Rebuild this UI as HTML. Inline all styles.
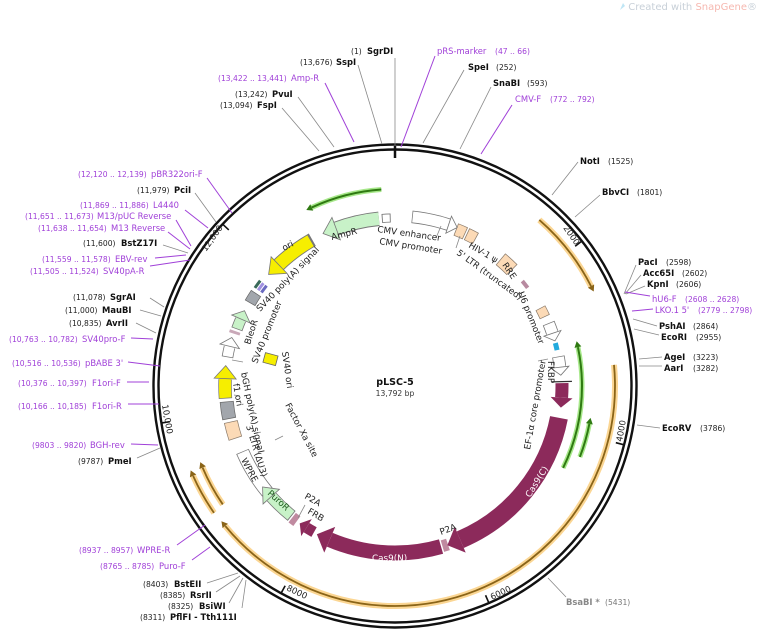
<!DOCTYPE html>
<html><head><meta charset="utf-8">
<style>
html,body{margin:0;padding:0;background:#fff;}
svg{display:block;}
text{font-family:"DejaVu Sans","Liberation Sans",sans-serif;}
.n{font-size:7.6px;fill:#222;}
.b{font-size:8.4px;font-weight:bold;fill:#111;}
.p{font-size:7.6px;fill:#a040d8;}
.pn{font-size:8.4px;fill:#a040d8;}
.f{font-size:8.8px;fill:#222;}
.a{fill:none;}
.l{stroke:#888;stroke-width:0.8;fill:none;}
.pl{stroke:#a040d8;stroke-width:1;fill:none;}
</style></head><body>
<svg width="760" height="634" viewBox="0 0 760 634" xmlns="http://www.w3.org/2000/svg">
<rect width="760" height="634" fill="#fff"/>
<text x="757" y="10" text-anchor="end" style="font-size:10px;fill:#c8d0d8">Created with <tspan fill="#f6b8b0">SnapGene</tspan>®</text>
<path d="M620 10 l3 -7 l2 3 z" fill="#bfe6f5"/>

<circle cx="395" cy="386" r="241.5" fill="none" stroke="#111" stroke-width="2.4"/>
<circle cx="395" cy="386" r="236.5" fill="none" stroke="#111" stroke-width="2.4"/>
<line x1="395" y1="146" x2="395" y2="158" stroke="#111" stroke-width="2.5"/>

<g stroke="#111" stroke-width="1.6">
<line x1="395" y1="150" x2="395" y2="158" transform="rotate(52.2 395 386)"/>
<line x1="395" y1="150" x2="395" y2="158" transform="rotate(104.4 395 386)"/>
<line x1="395" y1="150" x2="395" y2="158" transform="rotate(156.6 395 386)"/>
<line x1="395" y1="150" x2="395" y2="158" transform="rotate(208.8 395 386)"/>
<line x1="395" y1="150" x2="395" y2="158" transform="rotate(261 395 386)"/>
<line x1="395" y1="150" x2="395" y2="158" transform="rotate(313.2 395 386)"/>
</g>
<g style="font-size:8.5px;fill:#222">
<text transform="translate(563,228) rotate(55)">2000</text>
<text transform="translate(622,442) rotate(-80)">4000</text>
<text transform="translate(492,600) rotate(-25)">6000</text>
<text transform="translate(286,590) rotate(25)">8000</text>
<text transform="translate(162,405) rotate(80)">10,000</text>
<text transform="translate(206,252) rotate(-55)">12,000</text>
</g>

<g transform="rotate(-90 395 386)">
 <circle class="a" cx="395" cy="386" r="220" pathLength="360" stroke="#fbd693" stroke-width="6" stroke-dasharray="22 400" stroke-dashoffset="-41"/>
 <circle class="a" cx="395" cy="386" r="220" pathLength="360" stroke="#8a6418" stroke-width="1.8" stroke-dasharray="22 400" stroke-dashoffset="-41"/>
 <circle class="a" cx="395" cy="386" r="220" pathLength="360" stroke="#fbd693" stroke-width="6" stroke-dasharray="146 400" stroke-dashoffset="-84.5"/>
 <circle class="a" cx="395" cy="386" r="220" pathLength="360" stroke="#8a6418" stroke-width="1.8" stroke-dasharray="146 400" stroke-dashoffset="-84.5"/>
 <circle class="a" cx="395" cy="386" r="221" pathLength="360" stroke="#fbd693" stroke-width="6" stroke-dasharray="11 400" stroke-dashoffset="-235"/>
 <circle class="a" cx="395" cy="386" r="221" pathLength="360" stroke="#8a6418" stroke-width="1.8" stroke-dasharray="11 400" stroke-dashoffset="-235"/>
 <circle class="a" cx="395" cy="386" r="209" pathLength="360" stroke="#fbd693" stroke-width="6" stroke-dasharray="11.5 400" stroke-dashoffset="-235.5"/>
 <circle class="a" cx="395" cy="386" r="209" pathLength="360" stroke="#8a6418" stroke-width="1.8" stroke-dasharray="11.5 400" stroke-dashoffset="-235.5"/>
 <circle class="a" cx="395" cy="386" r="197" pathLength="360" stroke="#a7e88a" stroke-width="5" stroke-dasharray="21 400" stroke-dashoffset="-335"/>
 <circle class="a" cx="395" cy="386" r="197" pathLength="360" stroke="#2f7a12" stroke-width="2" stroke-dasharray="21 400" stroke-dashoffset="-335"/>
 <circle class="a" cx="395" cy="386" r="187" pathLength="360" stroke="#a7e88a" stroke-width="5" stroke-dasharray="38 400" stroke-dashoffset="-78"/>
 <circle class="a" cx="395" cy="386" r="187" pathLength="360" stroke="#2f7a12" stroke-width="2" stroke-dasharray="38 400" stroke-dashoffset="-78"/>
 <circle class="a" cx="395" cy="386" r="198" pathLength="360" stroke="#a7e88a" stroke-width="5" stroke-dasharray="10 400" stroke-dashoffset="-101"/>
 <circle class="a" cx="395" cy="386" r="198" pathLength="360" stroke="#2f7a12" stroke-width="2" stroke-dasharray="10 400" stroke-dashoffset="-101"/>
</g>
<polygon points="395,162.5 401,166 395,169.5" fill="#8a6418" transform="rotate(63 395 386)"/>
<polygon points="395,162.5 401,166 395,169.5" fill="#8a6418" transform="rotate(230.5 395 386)"/>
<polygon points="395,161.5 401,165 395,168.5" fill="#8a6418" transform="rotate(246 395 386)"/>
<polygon points="395,173.5 401,177 395,180.5" fill="#8a6418" transform="rotate(247 395 386)"/>
<polygon points="395,185.5 389,189 395,192.5" fill="#2f7a12" transform="rotate(335 395 386)"/>
<polygon points="395,195.5 389,199 395,202.5" fill="#2f7a12" transform="rotate(78 395 386)"/>
<polygon points="395,184.5 389,188 395,191.5" fill="#2f7a12" transform="rotate(101 395 386)"/>

<g transform="rotate(-90 395 386)" fill="none">
 <circle cx="395" cy="386" r="168" pathLength="360" stroke="#777" stroke-width="14.4" stroke-dasharray="15.5 400" stroke-dashoffset="-339"/>
 <circle cx="395" cy="386" r="168" pathLength="360" stroke="#c8f2c8" stroke-width="12.6" stroke-dasharray="15 400" stroke-dashoffset="-339.5"/>
 <circle cx="395" cy="386" r="168" pathLength="360" stroke="#777" stroke-width="9" stroke-dasharray="3 400" stroke-dashoffset="-355.5"/>
 <circle cx="395" cy="386" r="168" pathLength="360" stroke="#fff" stroke-width="7.4" stroke-dasharray="2.4 400" stroke-dashoffset="-355.8"/>
 <circle cx="395" cy="386" r="170" pathLength="360" stroke="#777" stroke-width="12.6" stroke-dasharray="9.5 400" stroke-dashoffset="-5.75"/>
 <circle cx="395" cy="386" r="170" pathLength="360" stroke="#fff" stroke-width="11" stroke-dasharray="9 400" stroke-dashoffset="-6"/>
 <circle cx="395" cy="386" r="170" pathLength="360" stroke="#777" stroke-width="12.6" stroke-dasharray="3.5 400" stroke-dashoffset="-15"/>
 <circle cx="395" cy="386" r="170" pathLength="360" stroke="#fff" stroke-width="11" stroke-dasharray="3.5 400" stroke-dashoffset="-14.8"/>
 <circle cx="395" cy="386" r="168" pathLength="360" stroke="#8a7a6a" stroke-width="13" stroke-dasharray="3.5 400" stroke-dashoffset="-21.25"/>
 <circle cx="395" cy="386" r="168" pathLength="360" stroke="#fcdab6" stroke-width="11.6" stroke-dasharray="3 400" stroke-dashoffset="-21.5"/>
 <circle cx="395" cy="386" r="168" pathLength="360" stroke="#8a7a6a" stroke-width="13" stroke-dasharray="3.5 400" stroke-dashoffset="-25.25"/>
 <circle cx="395" cy="386" r="168" pathLength="360" stroke="#fcdab6" stroke-width="11.6" stroke-dasharray="3 400" stroke-dashoffset="-25.5"/>
 <circle cx="395" cy="386" r="165" pathLength="360" stroke="#8a7a6a" stroke-width="15" stroke-dasharray="5.5 400" stroke-dashoffset="-39.75"/>
 <circle cx="395" cy="386" r="165" pathLength="360" stroke="#fcdab6" stroke-width="13.6" stroke-dasharray="5 400" stroke-dashoffset="-40"/>
 <circle cx="395" cy="386" r="165" pathLength="360" stroke="#b88aa0" stroke-width="4" stroke-dasharray="3 400" stroke-dashoffset="-50.5"/>
 <circle cx="395" cy="386" r="165" pathLength="360" stroke="#8a7a6a" stroke-width="11" stroke-dasharray="3.5 400" stroke-dashoffset="-61.75"/>
 <circle cx="395" cy="386" r="165" pathLength="360" stroke="#fcdab6" stroke-width="9.6" stroke-dasharray="3 400" stroke-dashoffset="-62"/>
 <circle cx="395" cy="386" r="166" pathLength="360" stroke="#777" stroke-width="12.6" stroke-dasharray="3.5 400" stroke-dashoffset="-67.75"/>
 <circle cx="395" cy="386" r="166" pathLength="360" stroke="#fff" stroke-width="11" stroke-dasharray="3.6 400" stroke-dashoffset="-68"/>
 <circle cx="395" cy="386" r="166" pathLength="360" stroke="#22aadd" stroke-width="5" stroke-dasharray="2.5 400" stroke-dashoffset="-75"/>
 <circle cx="395" cy="386" r="166" pathLength="360" stroke="#777" stroke-width="12.6" stroke-dasharray="3.5 400" stroke-dashoffset="-79.75"/>
 <circle cx="395" cy="386" r="166" pathLength="360" stroke="#fff" stroke-width="11" stroke-dasharray="3.6 400" stroke-dashoffset="-80"/>
 <circle cx="395" cy="386" r="167" pathLength="360" stroke="#8c2a5b" stroke-width="13" stroke-dasharray="5 400" stroke-dashoffset="-89"/>
 <circle cx="395" cy="386" r="167" pathLength="360" stroke="#8c2a5b" stroke-width="18" stroke-dasharray="56 400" stroke-dashoffset="-101"/>
 <circle cx="395" cy="386" r="167" pathLength="360" stroke="#c08aa0" stroke-width="12" stroke-dasharray="2 400" stroke-dashoffset="-161.5"/>
 <circle cx="395" cy="386" r="167" pathLength="360" stroke="#8c2a5b" stroke-width="15" stroke-dasharray="39 400" stroke-dashoffset="-164"/>
 <circle cx="395" cy="386" r="167" pathLength="360" stroke="#8c2a5b" stroke-width="11" stroke-dasharray="3 400" stroke-dashoffset="-209"/>
 <circle cx="395" cy="386" r="167" pathLength="360" stroke="#c08aa0" stroke-width="12" stroke-dasharray="2 400" stroke-dashoffset="-216"/>
 <circle cx="395" cy="386" r="166" pathLength="360" stroke="#777" stroke-width="12.6" stroke-dasharray="9.5 400" stroke-dashoffset="-218.5"/>
 <circle cx="395" cy="386" r="166" pathLength="360" stroke="#c8f2c8" stroke-width="11" stroke-dasharray="9.6 400" stroke-dashoffset="-218.8"/>
 <circle cx="395" cy="386" r="166" pathLength="360" stroke="#777" stroke-width="13.6" stroke-dasharray="16.5 400" stroke-dashoffset="-230.25"/>
 <circle cx="395" cy="386" r="166" pathLength="360" stroke="#fff" stroke-width="12" stroke-dasharray="16 400" stroke-dashoffset="-230.5"/>
 <circle cx="395" cy="386" r="168" pathLength="360" stroke="#8a7a6a" stroke-width="14" stroke-dasharray="6 400" stroke-dashoffset="-251.75"/>
 <circle cx="395" cy="386" r="168" pathLength="360" stroke="#fcdab6" stroke-width="12.6" stroke-dasharray="5.5 400" stroke-dashoffset="-252"/>
 <circle cx="395" cy="386" r="169" pathLength="360" stroke="#666" stroke-width="14" stroke-dasharray="6 400" stroke-dashoffset="-258.75"/>
 <circle cx="395" cy="386" r="169" pathLength="360" stroke="#a2a6ac" stroke-width="12.6" stroke-dasharray="5.5 400" stroke-dashoffset="-259"/>
 <circle cx="395" cy="386" r="170" pathLength="360" stroke="#777" stroke-width="13.4" stroke-dasharray="6.5 400" stroke-dashoffset="-265.75"/>
 <circle cx="395" cy="386" r="170" pathLength="360" stroke="#f6ee00" stroke-width="12" stroke-dasharray="6.6 400" stroke-dashoffset="-266"/>
 <circle cx="395" cy="386" r="170" pathLength="360" stroke="#777" stroke-width="11.6" stroke-dasharray="3.5 400" stroke-dashoffset="-279.75"/>
 <circle cx="395" cy="386" r="170" pathLength="360" stroke="#fff" stroke-width="10" stroke-dasharray="3.6 400" stroke-dashoffset="-280"/>
 <circle cx="395" cy="386" r="169" pathLength="360" stroke="#c9a8b8" stroke-width="11" stroke-dasharray="1 400" stroke-dashoffset="-288"/>
 <circle cx="395" cy="386" r="168" pathLength="360" stroke="#777" stroke-width="11.6" stroke-dasharray="3.5 400" stroke-dashoffset="-289.75"/>
 <circle cx="395" cy="386" r="168" pathLength="360" stroke="#c8f2c8" stroke-width="10" stroke-dasharray="3.6 400" stroke-dashoffset="-290"/>
 <circle cx="395" cy="386" r="167" pathLength="360" stroke="#666" stroke-width="12" stroke-dasharray="4 400" stroke-dashoffset="-299.75"/>
 <circle cx="395" cy="386" r="167" pathLength="360" stroke="#a2a6ac" stroke-width="10.6" stroke-dasharray="3.5 400" stroke-dashoffset="-300"/>
 <circle cx="395" cy="386" r="171" pathLength="360" stroke="#3a6a5a" stroke-width="3" stroke-dasharray="3 400" stroke-dashoffset="-305"/>
 <circle cx="395" cy="386" r="167" pathLength="360" stroke="#a090e0" stroke-width="3" stroke-dasharray="3 400" stroke-dashoffset="-305"/>
 <circle cx="395" cy="386" r="163" pathLength="360" stroke="#6a6ac0" stroke-width="3" stroke-dasharray="3 400" stroke-dashoffset="-305"/>
 <circle cx="395" cy="386" r="168" pathLength="360" stroke="#777" stroke-width="14.4" stroke-dasharray="14.5 400" stroke-dashoffset="-316"/>
 <circle cx="395" cy="386" r="168" pathLength="360" stroke="#f6ee00" stroke-width="12.6" stroke-dasharray="14 400" stroke-dashoffset="-315.8"/>
</g>
<g stroke="#777" stroke-width="0.8">
 <polygon points="395,206 381,218 395,230" fill="#c8f2c8" transform="rotate(339.5 395 386)"/>
 <polygon points="395,207 404,216 395,225" fill="#fff" transform="rotate(18.4 395 386)"/>
 <polygon points="395,211 403,220 395,229" fill="#fff" transform="rotate(71.5 395 386)"/>
 <polygon points="395,211 403,220 395,229" fill="#fff" transform="rotate(83.5 395 386)"/>
 <polygon points="395,207 381,218 395,230" fill="#f6ee00" transform="rotate(316.2 395 386)"/>
 <polygon points="395,209 408,220 395,231" fill="#c8f2c8" transform="rotate(228.2 395 386)"/>
 <polygon points="395,205 408,216 395,227" fill="#f6ee00" transform="rotate(272.5 395 386)"/>
 <polygon points="395,206 404,216 395,226" fill="#fff" transform="rotate(283.5 395 386)"/>
 <polygon points="395,208 404,218 395,228" fill="#c8f2c8" transform="rotate(293.5 395 386)"/>
</g>
<g fill="#8c2a5b">
 <polygon points="395,208 405,219 395,230" transform="rotate(94 395 386)"/>
 <polygon points="395,205 409,219 395,233" transform="rotate(157 395 386)"/>
 <polygon points="395,205 409,219 395,233" transform="rotate(203 395 386)"/>
 <polygon points="395,209 403,219 395,229" transform="rotate(212 395 386)"/>
</g>
<line x1="395" y1="209" x2="395" y2="229" stroke="#333" stroke-width="1.2" transform="rotate(88.5 395 386)"/>
<rect x="264" y="354" width="13" height="10" fill="#f6ee00" stroke="#666" stroke-width="0.8" transform="rotate(15 270 359)"/>

<g class="l">
<line x1="436" y1="238" x2="441" y2="226"/>
<line x1="460" y1="236" x2="456" y2="248"/>
<line x1="548" y1="359" x2="538" y2="361"/>
<line x1="232" y1="360" x2="243" y2="362"/>
<line x1="234" y1="395" x2="240" y2="396"/>
<line x1="275" y1="440" x2="283" y2="436"/>
<line x1="305" y1="505" x2="298" y2="518"/>
</g>

<g class="f">
<text transform="translate(332,240) rotate(-14)">AmpR</text>
<text transform="translate(377,232) rotate(8)">CMV enhancer</text>
<text transform="translate(379,244) rotate(9)">CMV promoter</text>
<text transform="translate(468,247) rotate(30)">HIV-1 ψ</text>
<text transform="translate(456,254) rotate(36)">5' LTR (truncated)</text>
<text transform="translate(502,265) rotate(56)">RRE</text>
<text transform="translate(518,293) rotate(68)">U6 promoter</text>
<text transform="translate(548,361) rotate(90)">FKBP</text>
<text transform="translate(530,450) rotate(-80)">EF-1α core promoter</text>
<text transform="translate(530,498) rotate(-58)" style="fill:#fff">Cas9(C)</text>
<text transform="translate(441,535) rotate(-20)">P2A</text>
<text x="372" y="561" style="fill:#fff">Cas9(N)</text>
<text transform="translate(304,498) rotate(30)">P2A</text>
<text transform="translate(307,513) rotate(30)">FRB</text>
<text transform="translate(267,494) rotate(42)" style="fill:#1a5a1a">PuroR</text>
<text transform="translate(241,460) rotate(62)">WPRE</text>
<text transform="translate(246,426) rotate(73)">3' LTR (ΔU3)</text>
<text transform="translate(241,373) rotate(78)">bGH poly(A) signal</text>
<text transform="translate(233,384) rotate(80)">f1 ori</text>
<text transform="translate(257,364) rotate(-68)">SV40 promoter</text>
<text transform="translate(250,345) rotate(-72)">BleoR</text>
<text transform="translate(260,312) rotate(-46)">SV40 poly(A) signal</text>
<text transform="translate(284,251) rotate(-28)">ori</text>
<text transform="translate(282,352) rotate(82)">SV40 ori</text>
<text transform="translate(285,405) rotate(62)">Factor Xa site</text>
</g>

<text x="395" y="385" text-anchor="middle" style="font-size:9.5px;font-weight:bold;fill:#111">pLSC-5</text>
<text x="395" y="396" text-anchor="middle" style="font-size:7.6px;fill:#333">13,792 bp</text>

<g class="l">
<line x1="395" y1="58" x2="395" y2="145"/>
<line x1="358" y1="65" x2="382" y2="144"/>
<line x1="298" y1="97" x2="334" y2="147"/>
<line x1="282" y1="108" x2="319" y2="151"/>
<line x1="195" y1="193" x2="216" y2="222"/>
<line x1="163" y1="245" x2="188" y2="253"/>
<line x1="150" y1="298" x2="164" y2="307"/>
<line x1="140" y1="310" x2="161" y2="316"/>
<line x1="136" y1="323" x2="156" y2="333"/>
<line x1="137" y1="458" x2="160" y2="448"/>
<line x1="207" y1="583" x2="238" y2="573"/>
<line x1="216" y1="592" x2="240" y2="576"/>
<line x1="229" y1="603" x2="243" y2="578"/>
<line x1="242" y1="608" x2="246" y2="580"/>
<line x1="464" y1="70" x2="423" y2="143"/>
<line x1="491" y1="87" x2="460" y2="149"/>
<line x1="578" y1="162" x2="552" y2="195"/>
<line x1="600" y1="195" x2="575" y2="217"/>
<line x1="636" y1="265" x2="624" y2="294"/>
<line x1="641" y1="275" x2="625" y2="294"/>
<line x1="645" y1="286" x2="626" y2="294"/>
<line x1="657" y1="326" x2="633" y2="319"/>
<line x1="659" y1="335" x2="634" y2="329"/>
<line x1="662" y1="357" x2="639" y2="359"/>
<line x1="662" y1="366" x2="639" y2="366"/>
<line x1="660" y1="428" x2="637" y2="425"/>
<line x1="566" y1="597" x2="548" y2="578"/>
</g>
<g class="pl">
<line x1="325" y1="83" x2="354" y2="142"/>
<line x1="207" y1="178" x2="232" y2="213"/>
<line x1="185" y1="210" x2="208" y2="228"/>
<line x1="176" y1="220" x2="191" y2="246"/>
<line x1="168" y1="232" x2="190" y2="249"/>
<line x1="155" y1="258" x2="186" y2="255"/>
<line x1="150" y1="266" x2="190" y2="260"/>
<line x1="131" y1="338" x2="153" y2="339"/>
<line x1="128" y1="362" x2="160" y2="366"/>
<line x1="127" y1="382" x2="149" y2="382"/>
<line x1="128" y1="404" x2="159" y2="404"/>
<line x1="131" y1="444" x2="158" y2="445"/>
<line x1="177" y1="545" x2="205" y2="525"/>
<line x1="192" y1="560" x2="210" y2="547"/>
<line x1="435" y1="56" x2="401" y2="147"/>
<line x1="512" y1="105" x2="481" y2="154"/>
<line x1="650" y1="296" x2="625" y2="292"/>
<line x1="653" y1="309" x2="632" y2="311"/>
</g>

<text x="351" y="54" class="n">(1)</text><text x="367" y="54" class="b">SgrDI</text>
<text x="300" y="65" class="n">(13,676)</text><text x="336" y="65" class="b">SspI</text>
<text x="218" y="81" class="p">(13,422 .. 13,441)</text><text x="291" y="81" class="pn">Amp-R</text>
<text x="235" y="97" class="n">(13,242)</text><text x="272" y="97" class="b">PvuI</text>
<text x="220" y="108" class="n">(13,094)</text><text x="257" y="108" class="b">FspI</text>

<text x="78" y="177" class="p">(12,120 .. 12,139)</text><text x="151" y="177" class="pn">pBR322ori-F</text>
<text x="137" y="193" class="n">(11,979)</text><text x="174" y="193" class="b">PciI</text>
<text x="80" y="208" class="p">(11,869 .. 11,886)</text><text x="153" y="208" class="pn">L4440</text>
<text x="25" y="219" class="p">(11,651 .. 11,673)</text><text x="97" y="219" class="pn">M13/pUC Reverse</text>
<text x="38" y="231" class="p">(11,638 .. 11,654)</text><text x="111" y="231" class="pn">M13 Reverse</text>
<text x="83" y="246" class="n">(11,600)</text><text x="121" y="246" class="b">BstZ17I</text>
<text x="42" y="262" class="p">(11,559 .. 11,578)</text><text x="115" y="262" class="pn">EBV-rev</text>
<text x="30" y="274" class="p">(11,505 .. 11,524)</text><text x="103" y="274" class="pn">SV40pA-R</text>
<text x="73" y="300" class="n">(11,078)</text><text x="110" y="300" class="b">SgrAI</text>
<text x="65" y="313" class="n">(11,000)</text><text x="102" y="313" class="b">MauBI</text>
<text x="69" y="326" class="n">(10,835)</text><text x="106" y="326" class="b">AvrII</text>
<text x="9" y="342" class="p">(10,763 .. 10,782)</text><text x="82" y="342" class="pn">SV40pro-F</text>
<text x="12" y="366" class="p">(10,516 .. 10,536)</text><text x="85" y="366" class="pn">pBABE 3'</text>
<text x="18" y="386" class="p">(10,376 .. 10,397)</text><text x="92" y="386" class="pn">F1ori-F</text>
<text x="18" y="409" class="p">(10,166 .. 10,185)</text><text x="92" y="409" class="pn">F1ori-R</text>
<text x="32" y="448" class="p">(9803 .. 9820)</text><text x="90" y="448" class="pn">BGH-rev</text>
<text x="78" y="464" class="n">(9787)</text><text x="108" y="464" class="b">PmeI</text>
<text x="79" y="553" class="p">(8937 .. 8957)</text><text x="137" y="553" class="pn">WPRE-R</text>
<text x="100" y="569" class="p">(8765 .. 8785)</text><text x="159" y="569" class="pn">Puro-F</text>
<text x="143" y="587" class="n">(8403)</text><text x="174" y="587" class="b">BstEII</text>
<text x="160" y="598" class="n">(8385)</text><text x="190" y="598" class="b">RsrII</text>
<text x="168" y="609" class="n">(8325)</text><text x="199" y="609" class="b">BsiWI</text>
<text x="140" y="620" class="n">(8311)</text><text x="170" y="620" class="b">PflFI - Tth111I</text>

<text x="437" y="54" class="pn">pRS-marker</text><text x="495" y="54" class="p">(47 .. 66)</text>
<text x="468" y="70" class="b">SpeI</text><text x="496" y="70" class="n">(252)</text>
<text x="493" y="86" class="b">SnaBI</text><text x="527" y="86" class="n">(593)</text>
<text x="515" y="102" class="pn">CMV-F</text><text x="550" y="102" class="p">(772 .. 792)</text>
<text x="580" y="164" class="b">NotI</text><text x="608" y="164" class="n">(1525)</text>
<text x="602" y="195" class="b">BbvCI</text><text x="637" y="195" class="n">(1801)</text>
<text x="638" y="265" class="b">PacI</text><text x="666" y="265" class="n">(2598)</text>
<text x="643" y="276" class="b">Acc65I</text><text x="682" y="276" class="n">(2602)</text>
<text x="647" y="287" class="b">KpnI</text><text x="676" y="287" class="n">(2606)</text>
<text x="652" y="302" class="pn">hU6-F</text><text x="685" y="302" class="p">(2608 .. 2628)</text>
<text x="655" y="313" class="pn">LKO.1 5'</text><text x="698" y="313" class="p">(2779 .. 2798)</text>
<text x="659" y="329" class="b">PshAI</text><text x="693" y="329" class="n">(2864)</text>
<text x="661" y="340" class="b">EcoRI</text><text x="696" y="340" class="n">(2955)</text>
<text x="664" y="360" class="b">AgeI</text><text x="693" y="360" class="n">(3223)</text>
<text x="664" y="371" class="b">AarI</text><text x="693" y="371" class="n">(3282)</text>
<text x="662" y="431" class="b">EcoRV</text><text x="700" y="431" class="n">(3786)</text>
<text x="566" y="605" class="b" style="fill:#888">BsaBI *</text><text x="605" y="605" class="n" style="fill:#777">(5431)</text>
</svg>
</body></html>
